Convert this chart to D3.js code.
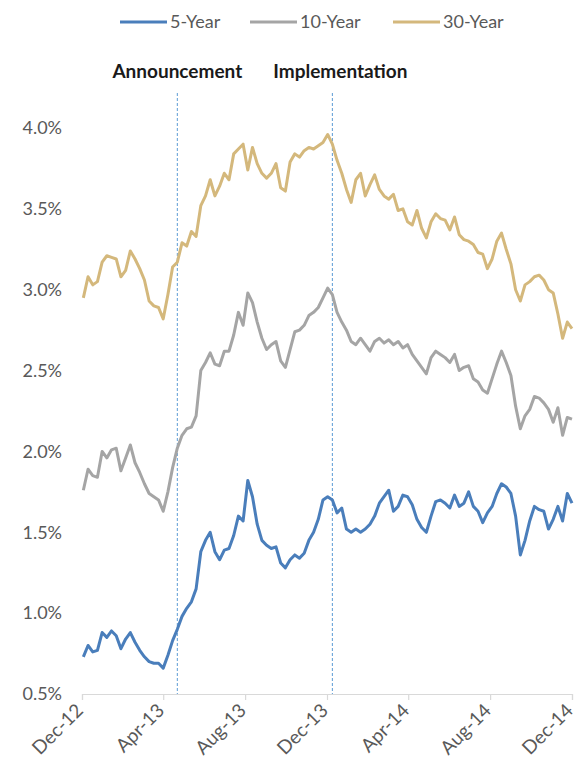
<!DOCTYPE html>
<html>
<head>
<meta charset="utf-8">
<script src="https://cdn.jsdelivr.net/npm/d3@7/dist/d3.min.js"></script>
<style>
  body { margin: 0; background: #fff; }
  svg { display: block; font-family: Lato, "Open Sans", sans-serif; }
</style>
</head>
<body>
<svg id="chart" width="577" height="763"></svg>
<script>
// Weekly Treasury yields (%), one value per week starting on the first Monday of Dec 2012
const firstWeek = "2012-12-03";
const seriesNames = ["5-Year", "10-Year", "30-Year"];
const seriesColors = ["#4a7ebb", "#a5a5a5", "#d4b87c"];

const fiveYear = [
  0.73, 0.80, 0.76, 0.77, 0.88, 0.85, 0.89, 0.86, 0.78, 0.84,
  0.88, 0.82, 0.77, 0.73, 0.70, 0.69, 0.69, 0.66, 0.74, 0.83,
  0.90, 0.98, 1.03, 1.07, 1.15, 1.38, 1.45, 1.50, 1.38, 1.33,
  1.39, 1.40, 1.48, 1.60, 1.57, 1.82, 1.72, 1.55, 1.45, 1.42,
  1.40, 1.41, 1.31, 1.28, 1.33, 1.36, 1.34, 1.37, 1.45, 1.50,
  1.58, 1.70, 1.72, 1.70, 1.62, 1.65, 1.52, 1.50, 1.52, 1.50,
  1.52, 1.55, 1.60, 1.68, 1.72, 1.76, 1.63, 1.66, 1.73, 1.72,
  1.67, 1.58, 1.53, 1.50, 1.60, 1.69, 1.70, 1.68, 1.65, 1.73,
  1.66, 1.68, 1.75, 1.66, 1.63, 1.56, 1.62, 1.66, 1.74, 1.80,
  1.78, 1.74, 1.60, 1.36, 1.45, 1.57, 1.66, 1.64, 1.63, 1.52,
  1.58, 1.66, 1.57, 1.74, 1.68
];

const tenYear = [
  1.76, 1.89, 1.85, 1.84, 2.00, 1.96, 2.01, 2.02, 1.88, 1.96,
  2.04, 1.93, 1.87, 1.80, 1.74, 1.72, 1.70, 1.63, 1.75, 1.90,
  2.02, 2.10, 2.14, 2.15, 2.22, 2.50, 2.55, 2.61, 2.54, 2.53,
  2.62, 2.62, 2.72, 2.86, 2.78, 2.98, 2.92, 2.80, 2.70, 2.63,
  2.66, 2.68, 2.56, 2.52, 2.63, 2.74, 2.75, 2.78, 2.84, 2.86,
  2.89, 2.95, 3.01, 2.97, 2.86, 2.80, 2.75, 2.68, 2.66, 2.70,
  2.66, 2.62, 2.68, 2.70, 2.67, 2.69, 2.66, 2.68, 2.64, 2.66,
  2.60, 2.56, 2.52, 2.48, 2.58, 2.62, 2.60, 2.58, 2.55, 2.60,
  2.50, 2.52, 2.53, 2.45, 2.43, 2.38, 2.36, 2.45, 2.54, 2.62,
  2.55, 2.47, 2.28, 2.14, 2.22, 2.26, 2.34, 2.33, 2.30, 2.26,
  2.18, 2.27, 2.10, 2.21, 2.20
];

const thirtyYear = [
  2.95, 3.08, 3.03, 3.05, 3.17, 3.21, 3.20, 3.19, 3.08, 3.12,
  3.24, 3.19, 3.13, 3.06, 2.93, 2.90, 2.89, 2.82, 2.97, 3.14,
  3.17, 3.29, 3.27, 3.36, 3.33, 3.52, 3.58, 3.68, 3.58, 3.64,
  3.72, 3.68, 3.84, 3.87, 3.90, 3.74, 3.88, 3.78, 3.72, 3.69,
  3.72, 3.78, 3.63, 3.61, 3.79, 3.84, 3.82, 3.86, 3.88, 3.87,
  3.89, 3.91, 3.96, 3.90, 3.80, 3.72, 3.62, 3.54, 3.68, 3.72,
  3.58, 3.65, 3.71, 3.62, 3.58, 3.56, 3.59, 3.49, 3.50, 3.42,
  3.40, 3.49, 3.38, 3.32, 3.42, 3.47, 3.44, 3.43, 3.37, 3.45,
  3.34, 3.31, 3.30, 3.28, 3.23, 3.22, 3.13, 3.19, 3.30, 3.35,
  3.25, 3.16, 3.00, 2.93, 3.03, 3.05, 3.08, 3.09, 3.06, 3.00,
  2.98, 2.85, 2.70, 2.80, 2.76
];

const yTicks = [0.5, 1.0, 1.5, 2.0, 2.5, 3.0, 3.5, 4.0];
const xTickDates = ["2012-12-01", "2013-04-01", "2013-08-01", "2013-12-01",
                    "2014-04-01", "2014-08-01", "2014-12-01"];
const eventNames = ["Announcement", "Implementation"];
const eventDates = ["2013-04-22", "2013-12-09"];

const parse = d3.timeParse("%Y-%m-%d");
const svg = d3.select("#chart");

const margin = { top: 128, right: 5, bottom: 69, left: 82 };
const width = 577 - margin.left - margin.right;
const height = 763 - margin.top - margin.bottom;

const x = d3.scaleTime()
  .domain([parse(xTickDates[0]), parse(xTickDates[xTickDates.length - 1])])
  .range([0, width]);
const y = d3.scaleLinear().domain([0.5, 4.0]).range([height, 0]);

const g = svg.append("g").attr("transform", `translate(${margin.left},${margin.top})`);

// y axis labels only (no axis line, no gridlines)
const yAxis = g.append("g")
  .call(d3.axisLeft(y).tickValues(yTicks).tickSize(0).tickPadding(20)
    .tickFormat(d => d3.format(".1f")(d) + "%"));
yAxis.select(".domain").remove();
yAxis.selectAll("text")
  .attr("fill", "#595959")
  .style("font-size", "18px")
  .style("font-family", "Lato, sans-serif");

// x axis with rotated month labels ending at each tick
const xAxis = g.append("g")
  .attr("transform", `translate(0,${height})`)
  .call(d3.axisBottom(x).tickValues(xTickDates.map(parse)).tickSize(6)
    .tickFormat(d3.timeFormat("%b-%y")));
xAxis.select(".domain").attr("stroke", "#d9d9d9").attr("stroke-width", 1.2);
xAxis.selectAll(".tick line").attr("stroke", "#d9d9d9").attr("stroke-width", 1.2);
xAxis.selectAll("text")
  .attr("fill", "#595959")
  .style("font-size", "19px")
  .style("font-family", "Lato, sans-serif")
  .attr("text-anchor", "end")
  .attr("x", 0)
  .attr("y", 0)
  .attr("dx", 0)
  .attr("dy", "0.35em")
  .attr("transform", "translate(-3,13) rotate(-45)");

// event markers
eventNames.forEach((name, i) => {
  const ex = x(parse(eventDates[i]));
  g.append("line")
    .attr("x1", ex).attr("x2", ex)
    .attr("y1", -35).attr("y2", height)
    .attr("stroke", "#5b9bd5")
    .attr("stroke-width", 1)
    .attr("stroke-dasharray", "3,2");
  g.append("text")
    .attr("x", ex + (i === 1 ? 8 : 0))
    .attr("y", -50)
    .attr("text-anchor", "middle")
    .attr("fill", "#1a1a1a")
    .style("font-weight", "bold")
    .style("font-size", "19px")
    .text(name);
});

// series lines
const series = [fiveYear, tenYear, thirtyYear];
const start = parse(firstWeek);
const line = d3.line()
  .x((d, i) => x(d3.timeWeek.offset(start, i)))
  .y(d => y(d));

series.forEach((vals, k) => {
  g.append("path")
    .datum(vals)
    .attr("fill", "none")
    .attr("stroke", seriesColors[k])
    .attr("stroke-width", 3)
    .attr("stroke-linejoin", "round")
    .attr("d", line);
});

// legend
const legendX = [120, 250, 393];
const legend = svg.append("g").attr("transform", "translate(0,22)");
seriesNames.forEach((name, k) => {
  legend.append("line")
    .attr("x1", legendX[k]).attr("x2", legendX[k] + 47)
    .attr("y1", 0).attr("y2", 0)
    .attr("stroke", seriesColors[k])
    .attr("stroke-width", 3);
  legend.append("text")
    .attr("x", legendX[k] + 50)
    .attr("y", 0)
    .attr("dy", "0.35em")
    .attr("fill", "#595959")
    .style("font-size", "18px")
    .text(name);
});
</script>
</body>
</html>
